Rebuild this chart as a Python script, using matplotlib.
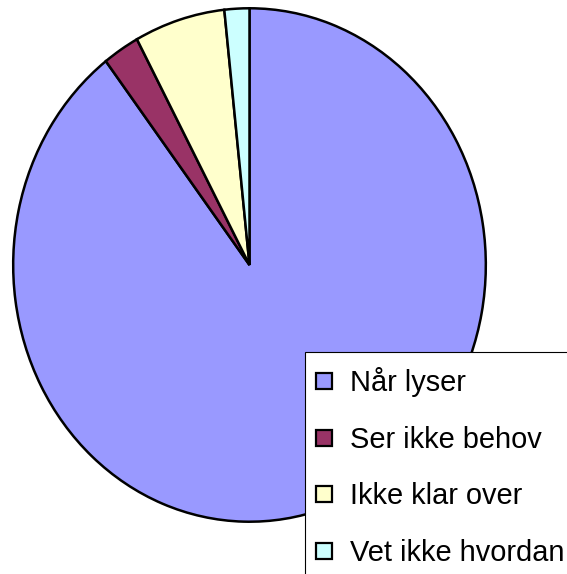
import matplotlib
matplotlib.use("Agg")
import matplotlib.pyplot as plt
from matplotlib.patches import Rectangle

labels = ["Når lyser", "Ser ikke behov", "Ikke klar over", "Vet ikke hvordan"]
values = [89.6, 2.5, 6.2, 1.7]
colors = ["#9999FF", "#993366", "#FFFFCC", "#CCFFFF"]

W, H = 567, 574
fig = plt.figure(figsize=(W / 100, H / 100), dpi=100)

# pie is slightly stretched vertically in the original (ellipse 475 x 516 px)
ax = fig.add_axes([12 / W, (H - 523) / H, 475 / W, 516 / H])
ax.pie(values, colors=colors, startangle=90, counterclock=False,
       wedgeprops=dict(edgecolor="black", linewidth=1.8))
ax.set_aspect("auto")
ax.set_xlim(-1.005, 1.005)
ax.set_ylim(-1.005, 1.005)
ax.axis("off")

# legend box, cut off by the right and bottom edge of the image
box = Rectangle((305 / W, -0.05), 0.5, (H - 352) / H + 0.05,
                transform=fig.transFigure, facecolor="white",
                edgecolor="black", linewidth=0.8, zorder=5)
fig.add_artist(box)

sq = 16
for i, (lab, col) in enumerate(zip(labels, colors)):
    yc = 381 + i * 56.7
    fig.add_artist(Rectangle((316 / W, (H - yc - sq / 2) / H), sq / W, sq / H,
                             transform=fig.transFigure, facecolor=col,
                             edgecolor="black", linewidth=1.6, zorder=6))
    fig.text(350 / W, (H - (yc + 10)) / H, lab, fontsize=20.9,
             family="Liberation Sans", va="baseline", ha="left", zorder=7)

fig.savefig("out.png", dpi=100)
